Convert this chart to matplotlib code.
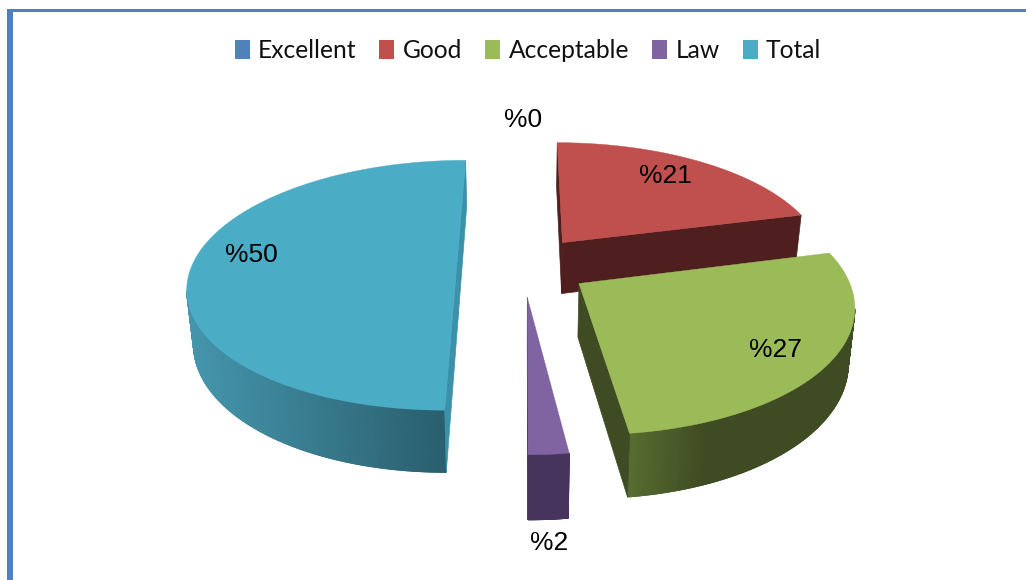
import matplotlib
matplotlib.use('Agg')
import matplotlib.pyplot as plt
from matplotlib.collections import LineCollection
from matplotlib.colors import LinearSegmentedColormap
from matplotlib.patches import Patch
import numpy as np

categories = ['Excellent', 'Good', 'Acceptable', 'Law', 'Total']
values = [0, 21, 27, 2, 50]
colors = ['#4f81bd', '#c0504d', '#9bbb59', '#8064a2', '#4bacc6']
# face of the cut edges, and arc side shading (dark -> light towards the left)
edge_colors = ['#2f4d71', '#4f1e1e', '#3f4b23', '#46345c', '#3c91aa']
arc_dark = ['#2f4d71', '#4f1e1e', '#3f4b23', '#46345c', '#2a5f6e']
arc_light = ['#2f4d71', '#4f1e1e', '#576d30', '#46345c', '#4596ad']
shade_span = [1, 1, 0.35, 1, 1]
label_x = [523, 665, 776, 549, 251]
label_y = [120, 176, 350, 543, 255]

# projection of the tilted pie
xv, yh = 523, -526      # vanishing point
A, B, p = 265, 792, 0.154
depth, shrink = 52.5, 0.98
explode = 0.25


def project(X, Y, low=False):
    s = 1 / (1 + p * Y)
    x = A * X * s
    y = yh + B * s
    if low:
        return xv + x * shrink, y + depth * s
    return xv + x, y


fig, ax = plt.subplots(figsize=(10.26, 5.8), dpi=100)
ax.set_position([0, 0, 1, 1])
ax.set_xlim(0, 1026)
ax.set_ylim(580, 0)
ax.axis('off')

# chart frame
ax.fill_between([7, 13], 9, 580, color='#4f81bd', lw=0)
ax.fill_between([7, 1026], 9, 12, color='#4f81bd', lw=0)

# Good first because Acceptable sits over its side
order = [1, 4, 2, 3]
ends = np.cumsum(values) / sum(values) * 2 * np.pi
starts = ends - np.array(values) / sum(values) * 2 * np.pi

for i in order:
    mid = (starts[i] + ends[i]) / 2
    ox, oy = explode * np.sin(mid), explode * np.cos(mid)
    t = np.linspace(starts[i], ends[i], 200)
    X = ox + np.sin(t)
    Y = oy + np.cos(t)

    # outer side, only the part that faces the viewer
    xt, yt = project(X, Y)
    xb, yb = project(X, Y, low=True)
    step = np.diff(xt) < 0
    front = np.r_[step, False] | np.r_[False, step]
    if front.sum() > 1:
        cmap = LinearSegmentedColormap.from_list('side', [arc_dark[i], arc_light[i]])
        xs = xt[front]
        f = np.clip(1 - (xs - xs.min()) / (shade_span[i] * (xs.max() - xs.min())), 0, 1)
        ax.pcolormesh(np.array([xt[front], xb[front]]), np.array([yt[front], yb[front]]),
                      np.array([f, f]), shading='gouraud', cmap=cmap, vmin=0, vmax=1)
        # smooth the lower rim, same shading as the side
        pts = np.column_stack([xb[front], yb[front]])
        segs = np.stack([pts[:-1], pts[1:]], axis=1)
        ax.add_collection(LineCollection(segs, colors=cmap(f[:-1]), linewidths=0.8))

    # the two cut faces, skip the ones turned away
    for a, is_end in ((starts[i], False), (ends[i], True)):
        ex, ey = np.array([ox, ox + np.sin(a)]), np.array([oy, oy + np.cos(a)])
        tx, ty = project(ex, ey)
        bx, by = project(ex, ey, low=True)
        cross = (tx[1] - tx[0]) * (by[0] - ty[0]) - (ty[1] - ty[0]) * (bx[0] - tx[0])
        if (cross > 0) == is_end:
            ax.fill([tx[0], tx[1], bx[1], bx[0]], [ty[0], ty[1], by[1], by[0]],
                    color=edge_colors[i], lw=0.5)

    # top face
    px, py = project(np.r_[ox, X], np.r_[oy, Y])
    ax.fill(px, py, color=colors[i], lw=0.3)

for lx, ly, v in zip(label_x, label_y, values):
    ax.text(lx, ly, '%' + str(v), ha='center', va='center', fontsize=19,
            family='Liberation Sans', color='black')

handles = [Patch(facecolor=c, edgecolor='none') for c in colors]
ax.legend(handles, categories, loc='center', bbox_to_anchor=(528 / 1026, 1 - 50.5 / 580), ncol=5,
          frameon=False, prop={'family': 'Lato', 'size': 17.7}, handlelength=0.61, handleheight=0.85,
          handletextpad=0.33, columnspacing=0.95, borderpad=0, labelcolor='#111111')

plt.savefig('out.png', dpi=100)
plt.close()
